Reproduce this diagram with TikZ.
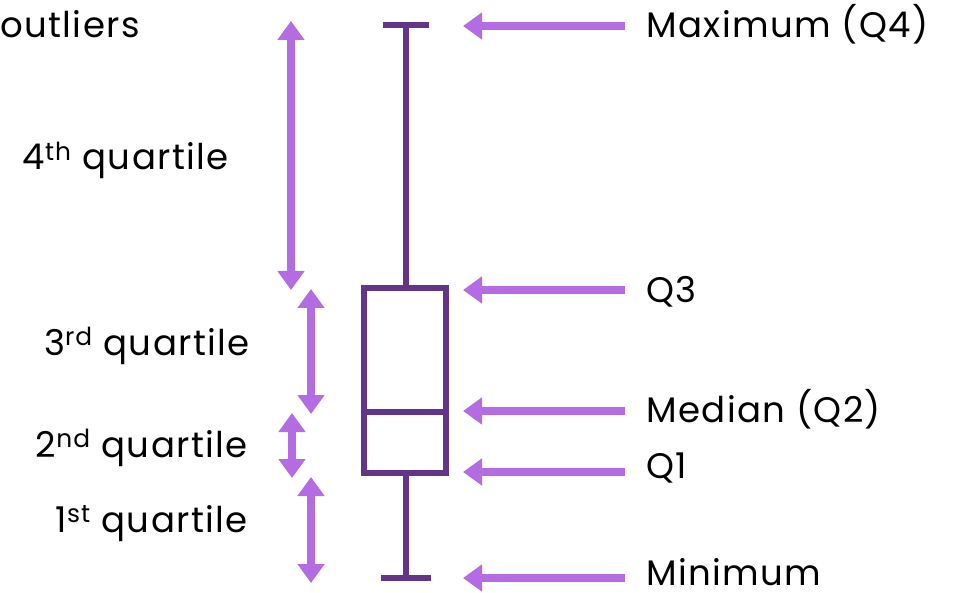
\documentclass[tikz,border=0pt]{standalone}
\usepackage{fontspec}
\setmainfont{Poppins}[LetterSpace=4.0]
\usetikzlibrary{arrows.meta}
\definecolor{boxpurple}{HTML}{643488}
\definecolor{arrowviolet}{HTML}{B36CE2}
\begin{document}
\begin{tikzpicture}[x=1pt,y=-1pt,
  lbl/.style={inner sep=0pt, font=\fontsize{35.5}{38}\selectfont, text=black},
  boxline/.style={draw=boxpurple, line width=5.5pt},
  pointer/.style={draw=arrowviolet, line width=8pt,
    -{Triangle[width=26pt,length=19pt]}, arrowviolet},
  span/.style={draw=arrowviolet, line width=8pt,
    {Triangle[width=26pt,length=19pt]}-{Triangle[width=26pt,length=19pt]}, arrowviolet}]
\useasboundingbox (0,0) rectangle (955,593);

% key points of the box plot
\coordinate (wmaxL) at (383,25);
\coordinate (wmaxR) at (429,25);
\coordinate (wmax)  at (406,25);
\coordinate (q3)    at (406,288);
\coordinate (q1)    at (406,473);
\coordinate (wmin)  at (406,578);
\coordinate (wminL) at (381,578);
\coordinate (wminR) at (431,578);

% whiskers and box
\draw[boxline] (wmaxL) -- (wmaxR);
\draw[boxline] (wmax) -- (q3);
\draw[boxline] (q1) -- (wmin);
\draw[boxline] (wminL) -- (wminR);
\node[boxline, rectangle, minimum width=82pt, minimum height=185pt, inner sep=0pt]
  (box) at (405,380.5) {};
\draw[boxline] ([yshift=-31.5pt]box.west) coordinate (medL) -- ([yshift=-31.5pt]box.east) coordinate (medR);

% labels on the right
\node[lbl, anchor=base west] (lmax) at (646,38)  {Maximum (Q4)};
\node[lbl, anchor=base west] (lq3)  at (646,303) {Q3};
\node[lbl, anchor=base west] (lmed) at (646,422) {Median (Q2)};
\node[lbl, anchor=base west] (lq1)  at (646,478) {Q1};
\node[lbl, anchor=base west] (lmin) at (646,585) {Minimum};

% pointer tails and tips
\coordinate (tmax) at (625,26);  \coordinate (hmax) at (463,26);
\coordinate (tq3)  at (625,290); \coordinate (hq3)  at (463,290);
\coordinate (tmed) at (625,411); \coordinate (hmed) at (463,411);
\coordinate (tq1)  at (625,472); \coordinate (hq1)  at (463,472);
\coordinate (tmin) at (625,578); \coordinate (hmin) at (463,578);
\draw[pointer] (tmax) -- (hmax);
\draw[pointer] (tq3) -- (hq3);
\draw[pointer] (tmed) -- (hmed);
\draw[pointer] (tq1) -- (hq1);
\draw[pointer] (tmin) -- (hmin);

% labels on the left
\node[lbl, anchor=base west] (lout) at (0,38) {outliers};
\node[lbl, anchor=base east] (l4) at (229,170) {4\textsuperscript{th} quartile};
\node[lbl, anchor=base east] (l3) at (250,355) {3\textsuperscript{rd} quartile};
\node[lbl, anchor=base east] (l2) at (248,457) {2\textsuperscript{nd} quartile};
\node[lbl, anchor=base east] (l1) at (248,532) {1\textsuperscript{st} quartile};

% quartile spans
\coordinate (s4a) at (291,21);  \coordinate (s4b) at (291,290);
\coordinate (s3a) at (311,289); \coordinate (s3b) at (311,414);
\coordinate (s2a) at (292,413); \coordinate (s2b) at (292,478);
\coordinate (s1a) at (311,477); \coordinate (s1b) at (311,583);
\draw[span] (s4a) -- (s4b);
\draw[span] (s3a) -- (s3b);
\draw[span] (s2a) -- (s2b);
\draw[span] (s1a) -- (s1b);
\end{tikzpicture}
\end{document}
